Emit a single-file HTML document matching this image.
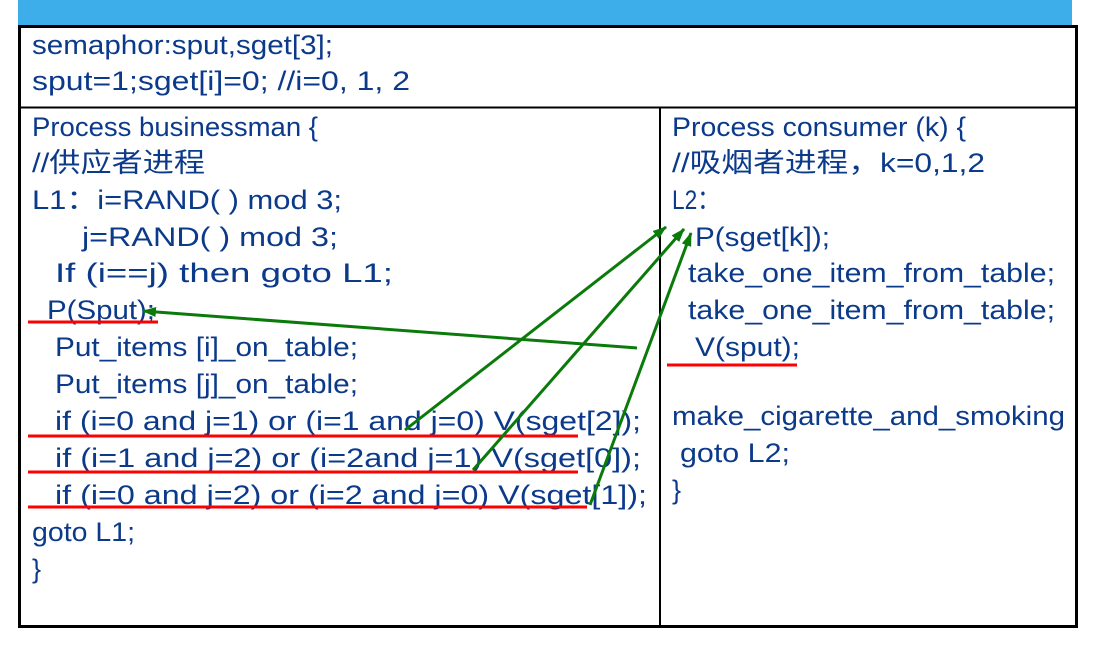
<!DOCTYPE html>
<html><head><meta charset="utf-8"><style>
html,body{margin:0;padding:0;background:#fff;width:1094px;height:658px;overflow:hidden}
svg{display:block}
text{font-family:"Liberation Sans","Noto Sans CJK SC",sans-serif;font-size:27px;fill:#0b3a8a}
</style></head><body>
<svg width="1094" height="658" viewBox="0 0 1094 658" xmlns="http://www.w3.org/2000/svg">
<defs><marker id="ah" markerWidth="14" markerHeight="10" refX="13" refY="5" orient="auto" markerUnits="userSpaceOnUse"><path d="M0,0 L14,5 L0,10 z" fill="#0a7a0a"/></marker></defs>
<rect x="18" y="0" width="1054" height="26" fill="#3daee9"/>
<rect x="19.5" y="26.5" width="1057" height="600" fill="#fff" stroke="#000" stroke-width="3"/>
<line x1="19" y1="107.5" x2="1077" y2="107.5" stroke="#000" stroke-width="2"/>
<line x1="660" y1="107" x2="660" y2="626" stroke="#000" stroke-width="2"/>

<text x="32" y="54" textLength="301" lengthAdjust="spacingAndGlyphs">semaphor:sput,sget[3];</text>
<text x="32" y="90" textLength="378" lengthAdjust="spacingAndGlyphs">sput=1;sget[i]=0; //i=0, 1, 2</text>

<text x="32" y="136" textLength="286" lengthAdjust="spacingAndGlyphs">Process businessman {</text>
<text x="32" y="172" textLength="173" lengthAdjust="spacingAndGlyphs">//供应者进程</text>
<text x="32" y="209" textLength="310" lengthAdjust="spacingAndGlyphs">L1：i=RAND( ) mod 3;</text>
<text x="82" y="246" textLength="256" lengthAdjust="spacingAndGlyphs">j=RAND( ) mod 3;</text>
<text x="55" y="282" textLength="338" lengthAdjust="spacingAndGlyphs">If  (i==j)  then goto L1;</text>
<text x="47" y="319" textLength="108" lengthAdjust="spacingAndGlyphs">P(Sput);</text>
<text x="55" y="356" textLength="303" lengthAdjust="spacingAndGlyphs">Put_items [i]_on_table;</text>
<text x="55" y="393" textLength="303" lengthAdjust="spacingAndGlyphs">Put_items [j]_on_table;</text>
<text x="55" y="430" textLength="586" lengthAdjust="spacingAndGlyphs">if (i=0 and j=1) or (i=1 and j=0) V(sget[2]);</text>
<text x="55" y="467" textLength="586" lengthAdjust="spacingAndGlyphs">if (i=1 and j=2) or (i=2and j=1)  V(sget[0]);</text>
<text x="55" y="504" textLength="592" lengthAdjust="spacingAndGlyphs">if (i=0 and j=2) or (i=2 and j=0) V(sget[1]);</text>
<text x="32" y="541" textLength="103" lengthAdjust="spacingAndGlyphs">goto L1;</text>
<text x="32" y="578">}</text>

<text x="672" y="136" textLength="294" lengthAdjust="spacingAndGlyphs">Process consumer (k) {</text>
<text x="672" y="172" textLength="313" lengthAdjust="spacingAndGlyphs">//吸烟者进程，k=0,1,2</text>
<text x="672" y="209" textLength="48" lengthAdjust="spacingAndGlyphs">L2：</text>
<text x="695" y="246" textLength="135" lengthAdjust="spacingAndGlyphs">P(sget[k]);</text>
<text x="688" y="282" textLength="367" lengthAdjust="spacingAndGlyphs">take_one_item_from_table;</text>
<text x="688" y="319" textLength="367" lengthAdjust="spacingAndGlyphs">take_one_item_from_table;</text>
<text x="695" y="356" textLength="105" lengthAdjust="spacingAndGlyphs">V(sput);</text>
<text x="672" y="425" textLength="393" lengthAdjust="spacingAndGlyphs">make_cigarette_and_smoking</text>
<text x="680" y="462" textLength="110" lengthAdjust="spacingAndGlyphs">goto L2;</text>
<text x="672" y="499">}</text>

<g stroke="#ff0000" stroke-width="3">
<line x1="28" y1="322" x2="158" y2="322"/>
<line x1="28" y1="436" x2="578" y2="436"/>
<line x1="28" y1="472" x2="578" y2="472"/>
<line x1="28" y1="507" x2="587" y2="507"/>
<line x1="667" y1="365" x2="797" y2="365"/>
</g>
<g stroke="#0a7a0a" stroke-width="3" fill="none" marker-end="url(#ah)">
<line x1="637" y1="348" x2="143" y2="311"/>
<line x1="405" y1="430" x2="666" y2="227"/>
<line x1="473" y1="470" x2="684" y2="229"/>
<line x1="590" y1="505" x2="691" y2="233"/>
</g>
</svg>
</body></html>
